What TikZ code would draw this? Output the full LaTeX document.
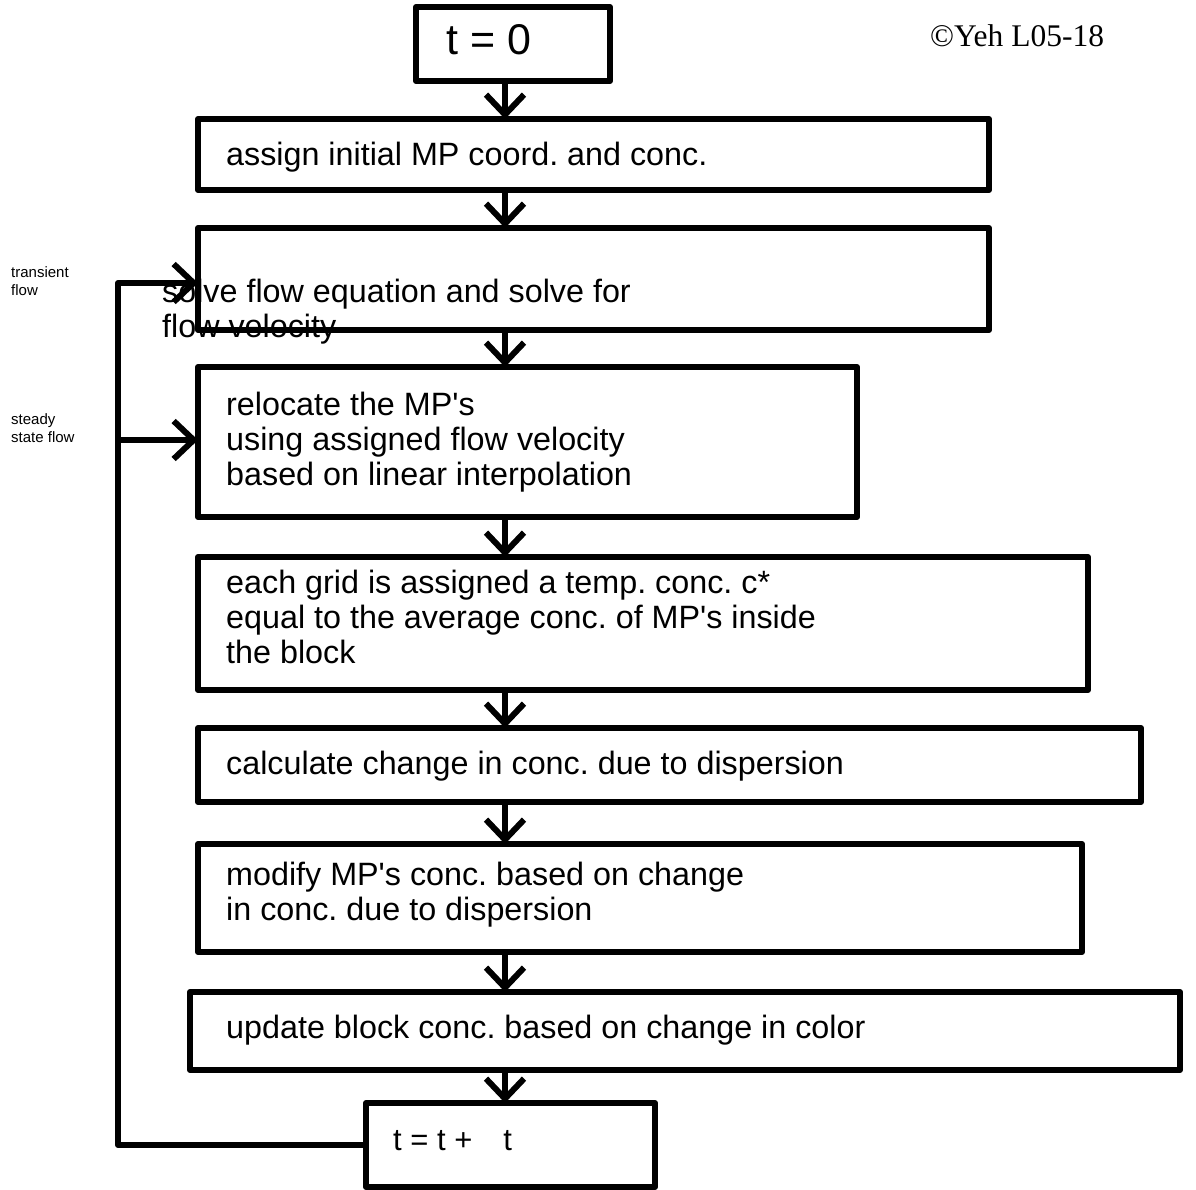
\documentclass[tikz,border=0pt]{standalone}
\usepackage{fontspec}
\setmainfont{Liberation Sans}
\newfontfamily\serifcr{Liberation Serif}
\usetikzlibrary{arrows.meta}
\newcommand{\ap}{\textquotesingle}
\begin{document}
\frenchspacing
\begin{tikzpicture}[x=1pt,y=-1pt,
  box/.style={draw, line width=6pt, line join=round, inner sep=0pt, outer sep=0pt},
  txt/.style={inner sep=0pt, anchor=west, align=left, font=\fontsize{32.3}{35}\selectfont},
  small/.style={inner sep=0pt, anchor=west, align=left, font=\fontsize{15}{17.5}\selectfont},
  conn/.style={line width=6pt, line join=round, -{Straight Barb[length=20pt,width=38pt]}},
  plain/.style={line width=6pt, line join=round}]
\useasboundingbox (0,0) rectangle (1196,1190);
% boxes
\node[box, minimum width=194pt, minimum height=74pt] (b1) at (513,44) {};
\node[box, minimum width=791pt, minimum height=71pt] (b2) at (593.5,154.5) {};
\node[box, minimum width=791pt, minimum height=102pt] (b3) at (593.5,279) {};
\node[box, minimum width=659pt, minimum height=150pt] (b4) at (527.5,442) {};
\node[box, minimum width=890pt, minimum height=133pt] (b5) at (643,623.5) {};
\node[box, minimum width=943pt, minimum height=74pt] (b6) at (669.5,765) {};
\node[box, minimum width=884pt, minimum height=108pt] (b7) at (640,898) {};
\node[box, minimum width=990pt, minimum height=78pt] (b8) at (685,1031) {};
\node[box, minimum width=289pt, minimum height=84pt] (b9) at (510.5,1145) {};
% texts
\node[inner sep=0pt, anchor=west, font=\fontsize{43}{50}\selectfont] (t1) at (446,40) {t = 0};
\node[txt] (t2) at (226,157) {assign initial MP coord. and conc.};
\node[txt] (t3) at (162,312) {solve flow equation and solve for\\flow velocity};
\node[txt] (t4) at (226,442) {relocate the MP\ap s\\using assigned flow velocity\\based on linear interpolation};
\node[txt] (t5) at (226,617) {each grid is assigned a temp. conc. c*\\equal to the average conc. of MP\ap s inside\\the block};
\node[txt] (t6) at (226,766) {calculate change in conc. due to dispersion};
\node[txt] (t7) at (226,895) {modify MP\ap s conc. based on change\\in conc. due to dispersion};
\node[txt] (t8) at (226,1030) {update block conc. based on change in color};
\node[inner sep=0pt, anchor=west, font=\fontsize{31}{35}\selectfont] (t9) at (393,1141) {t = t +\hspace{31pt}t};
\node[inner sep=0pt, anchor=west, font=\serifcr\fontsize{31.5}{34}\selectfont] (cr) at (930,36) {\textcopyright Yeh L05-18};
\node[small] (l1) at (11,281) {transient\\flow};
\node[small] (l2) at (11,428) {steady\\state flow};
% down arrows
\coordinate (ax) at (505,0);
\draw[conn] (b1.south -| ax) -- (b2.north -| ax);
\draw[conn] (b2.south -| ax) -- (b3.north -| ax);
\draw[conn] (b3.south -| ax) -- (b4.north -| ax);
\draw[conn] (b4.south -| ax) -- (b5.north -| ax);
\draw[conn] (b5.south -| ax) -- (b6.north -| ax);
\draw[conn] (b6.south -| ax) -- (b7.north -| ax);
\draw[conn] (b7.south -| ax) -- (b8.north -| ax);
\draw[conn] (b8.south -| ax) -- (b9.north -| ax);
% loop
\coordinate (corner) at (118,283);
\coordinate (tr) at (198,283);
\coordinate (st) at (198,440);
\draw[conn] (b9.west) -| (corner) -- (tr);
\draw[conn] (corner |- st) -- (st);
\end{tikzpicture}
\end{document}
